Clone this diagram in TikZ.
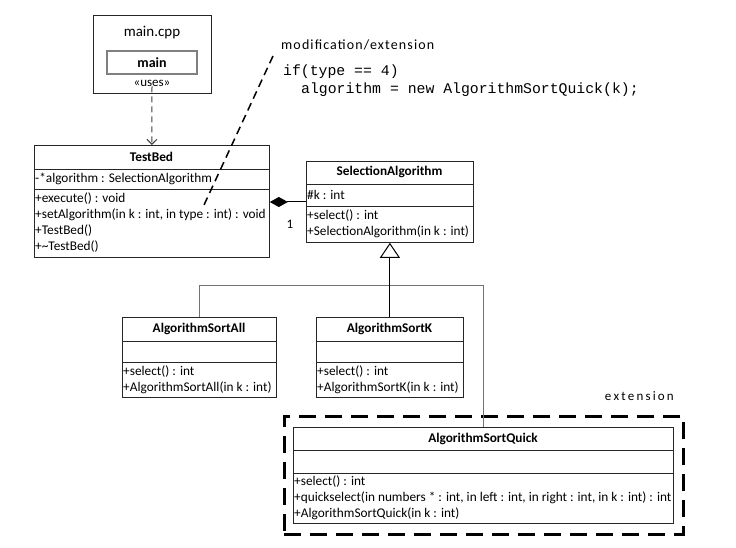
\documentclass[tikz,border=0pt]{standalone}
\usepackage{fontspec}
\setmainfont{Carlito}
\newfontfamily\codefont{Liberation Mono}
\usetikzlibrary{arrows.meta,calc}
\begin{document}
\begin{tikzpicture}[x=1pt,y=-1pt,
  cls/.style={draw=black!85, line width=0.8pt, inner sep=0, anchor=north west, fill=white},
  sep/.style={draw=black!85, line width=0.8pt},
  txt/.style={inner sep=0, anchor=west, font=\fontsize{13.3}{15}\selectfont},
  ttl/.style={inner sep=0, font=\bfseries\fontsize{13.3}{15}\selectfont},
  busline/.style={draw=black!55, line width=1pt},
  genline/.style={draw=black, line width=1pt, -{Triangle[open, length=15pt, width=20pt, fill=white]}},
  compline/.style={draw=black, line width=1pt, -{Diamond[length=18pt, width=10pt, fill=black]}},
  useline/.style={draw=black!75, line width=1pt, dash pattern=on 6pt off 4pt, -{Straight Barb[length=5pt, width=10pt]}},
  noteline/.style={draw=black, line width=1.5pt, dash pattern=on 8pt off 5pt},
  extbox/.style={draw=black, line width=2.5pt, dash pattern=on 17pt off 9pt}
]
\useasboundingbox (0,0) rectangle (736,548);
\fill[white] (0,0) rectangle (736,548);

% main.cpp
\node[cls, minimum width=118pt, minimum height=78pt] (mcpp) at (93,15) {};
\node[inner sep=0, font=\fontsize{15}{17}\selectfont] (mcpptxt) at (152,33) {main.cpp};
\node[draw=black!50, line width=1.2pt, minimum width=90pt, minimum height=23pt, inner sep=0, font=\bfseries\fontsize{14}{16}\selectfont] (mainfn) at (152,62.5) {main};
\node[inner sep=0, font=\fontsize{13}{15}\selectfont] (uses) at (152,83) {«uses»};

% TestBed
\node[cls, minimum width=235pt, minimum height=112pt] (tb) at (34,145) {};
\draw[sep] (tb.west |- 0,169) -- (tb.east |- 0,169);
\draw[sep] (tb.west |- 0,189) -- (tb.east |- 0,189);
\node[ttl] (tbt) at (151.5,157) {TestBed};
\node[txt] (tba) at (35,179) {-*algorithm : SelectionAlgorithm};
\node[txt] (tbm1) at (35,199) {+execute() : void};
\node[txt] (tbm2) at (35,215) {+setAlgorithm(in k : int, in type : int) : void};
\node[txt] (tbm3) at (35,231) {+TestBed()};
\node[txt] (tbm4) at (35,247) {+\textasciitilde TestBed()};

% SelectionAlgorithm
\node[cls, minimum width=167pt, minimum height=81pt] (sa) at (306,161) {};
\draw[sep] (sa.west |- 0,184) -- (sa.east |- 0,184);
\draw[sep] (sa.west |- 0,206) -- (sa.east |- 0,206);
\node[ttl] (sat) at (389.5,172) {SelectionAlgorithm};
\node[txt] (saa1) at (307,195) {\#k : int};
\node[txt] (sam1) at (307,216) {+select() : int};
\node[txt] (sam2) at (307,232) {+SelectionAlgorithm(in k : int)};

% AlgorithmSortAll
\node[cls, minimum width=154pt, minimum height=80pt] (sall) at (122,317) {};
\draw[sep] (sall.west |- 0,341) -- (sall.east |- 0,341);
\draw[sep] (sall.west |- 0,362) -- (sall.east |- 0,362);
\node[ttl] (sallt) at (199,329) {AlgorithmSortAll};
\node[txt] (sallm1) at (123,372) {+select() : int};
\node[txt] (sallm2) at (123,388) {+AlgorithmSortAll(in k : int)};

% AlgorithmSortK
\node[cls, minimum width=147pt, minimum height=80pt] (sk) at (316,317) {};
\draw[sep] (sk.west |- 0,341) -- (sk.east |- 0,341);
\draw[sep] (sk.west |- 0,362) -- (sk.east |- 0,362);
\node[ttl] (skt) at (389.5,329) {AlgorithmSortK};
\node[txt] (skm1) at (317,372) {+select() : int};
\node[txt] (skm2) at (317,388) {+AlgorithmSortK(in k : int)};

% extension frame
\node[extbox, minimum width=399pt, minimum height=118pt, inner sep=0, anchor=north west] (ext) at (283,415) {};
\node[inner sep=0, font=\fontsize{13}{15}\selectfont, anchor=east] (extlbl) at (674,396) {e\,x\,t\,e\,n\,s\,i\,o\,n};

% AlgorithmSortQuick
\node[cls, minimum width=380pt, minimum height=96pt] (sq) at (293,427) {};
\draw[sep] (sq.west |- 0,450) -- (sq.east |- 0,450);
\draw[sep] (sq.west |- 0,473) -- (sq.east |- 0,473);
\node[ttl] (sqt) at (483,439) {AlgorithmSortQuick};
\node[txt] (sqm1) at (294,482) {+select() : int};
\node[txt] (sqm2) at (294,498) {+quickselect(in numbers * : int, in left : int, in right : int, in k : int) : int};
\node[txt] (sqm3) at (294,514) {+AlgorithmSortQuick(in k : int)};

% note
\node[inner sep=0, anchor=west, font=\fontsize{14}{16}\selectfont\addfontfeature{LetterSpace=8}] (modlbl) at (281,45) {modification/extension};
\node[inner sep=0, anchor=west, font=\codefont\fontsize{14.8}{17}\selectfont] (code1) at (283,72) {if(type == 4)};
\node[inner sep=0, anchor=west, font=\codefont\fontsize{14.8}{17}\selectfont] (code2) at (301,90) {algorithm = new AlgorithmSortQuick(k);};
\coordinate (nstart) at (273,56);
\coordinate (nend) at (204,205);
\draw[noteline] (nstart) -- (nend);

% connectors
\draw[useline] (uses.south) -- (tb.north);
\draw[compline] (sa.west |- 0,202) -- (tb.east |- 0,202);
\node[inner sep=0, font=\fontsize{13}{15}\selectfont] (mult) at (290,224) {1};
\coordinate (bus) at (389.5,285);
\draw[busline] (sall.north) -- (sall.north |- bus) -- (sq.north |- bus) -- (sq.north);
\draw[genline] (sk.north) -- (sa.south);
\end{tikzpicture}
\end{document}
